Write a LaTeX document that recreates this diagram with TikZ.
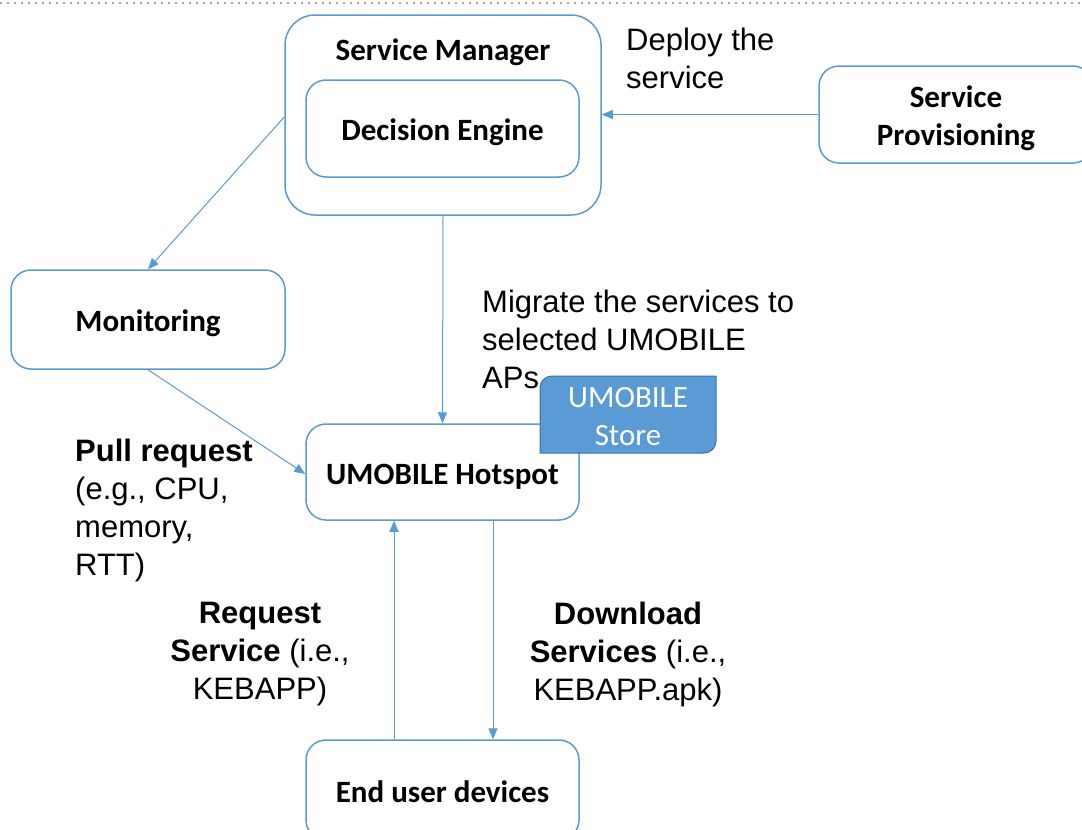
\documentclass[tikz,border=0pt]{standalone}
\usepackage{fontspec}
\setmainfont{Liberation Sans}
\newfontfamily\calibri{Carlito}
\usetikzlibrary{arrows.meta}
\definecolor{boxblue}{RGB}{91,155,213}
\definecolor{storeborder}{RGB}{65,113,156}
\tikzset{
  box/.style={draw=boxblue, line width=1.5pt, rounded corners=20pt, fill=white,
    font=\calibri\bfseries\fontsize{31}{38}\selectfont, align=center,
    text height=24pt, text depth=0pt, inner sep=0pt},
  boxtext/.style={font=\calibri\bfseries\fontsize{31}{38}\selectfont, align=center,
    text height=20pt, text depth=0pt, inner sep=0pt},
  lbl/.style={font=\fontsize{31}{38}\selectfont, inner sep=0pt},
  arr/.style={draw=boxblue, line width=1pt, -{Triangle[length=11pt,width=9pt]}},
}
\begin{document}
\begin{tikzpicture}[x=1pt,y=-1pt]
\useasboundingbox (0,0) rectangle (1082,830);
\fill[white] (0,0) rectangle (1082,830);
% dotted top border
\draw[gray!70, line width=1.5pt, dash pattern=on 1.5pt off 5.5pt] (0,3) -- (1082,3);

% Service manager
\node[box, rounded corners=30pt, minimum width=316pt, minimum height=200pt] (sm) at (443,115) {};
\node[boxtext] (smt) at (443,50) {Service Manager};
\node[box, minimum width=273pt, minimum height=97pt] (de) at (442.5,128.5) {Decision Engine};

% Service Provisioning
\node[box, minimum width=274pt, minimum height=97pt, text height=62pt] (sp) at (956,114.5) {Service\\Provisioning};

% Monitoring
\node[box, minimum width=274pt, minimum height=99pt] (mon) at (148,319.5) {Monitoring};

% Hotspot
\node[box, minimum width=273pt, minimum height=96pt] (hot) at (442.5,472) {UMOBILE Hotspot};

% End user devices
\node[box, minimum width=273pt, minimum height=100pt] (end) at (442.5,790) {End user devices};

% UMOBILE Store
\filldraw[fill=boxblue, draw=storeborder, line width=1pt]
  (540,453) -- (540,388) arc[start angle=180, end angle=90, radius=12pt]
  -- (716,376) -- (716,441) arc[start angle=0, end angle=-90, radius=12pt] -- cycle;
\node[font=\calibri\fontsize{31}{38}\selectfont, text=white, align=center, inner sep=0pt] (store) at (628,417) {UMOBILE\\Store};

% connectors
\draw[arr] (sp.west) -- (sp.west -| sm.east);
\draw[arr] ([yshift=-2pt]sm.west) -- (mon.north);
\draw[arr] (mon.south) -- ([yshift=-2pt]hot.west);
\draw[arr] (sm.south) -- (hot.north);
\draw[arr] ([xshift=-48.5pt]end.north) -- ([xshift=-48.5pt]hot.south);
\draw[arr] ([xshift=50.5pt]hot.south) -- ([xshift=50.5pt]end.north);

% labels
\node[lbl, anchor=north west, align=left] (deploy) at (626,28) {Deploy the\\service};
\node[lbl, anchor=north west, align=left] (migrate) at (482,290) {Migrate the services to\\selected UMOBILE\\APs};
\node[lbl, anchor=north west, align=left] (pull) at (75,439) {\textbf{Pull request}\\(e.g., CPU,\\memory,\\RTT)};
\node[lbl, anchor=north, align=center] (req) at (260,602) {\textbf{Request}\\\textbf{Service} (i.e.,\\KEBAPP)};
\node[lbl, anchor=north, align=center] (dl) at (628,602) {\textbf{Download}\\\textbf{Services} (i.e.,\\KEBAPP.apk)};
\end{tikzpicture}
\end{document}
